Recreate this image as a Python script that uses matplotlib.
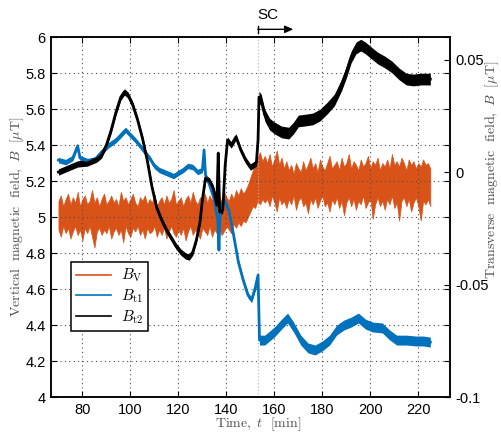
import numpy as np
import matplotlib
matplotlib.use('Agg')
from matplotlib import pyplot as plt
from matplotlib.lines import Line2D

plt.rcParams['mathtext.fontset'] = 'cm'
plt.rcParams['font.family'] = ['Liberation Sans', 'DejaVu Sans']

# --- vertical field B_V (left axis), band edges read every minute, t = 70..225
bv_t = np.arange(70, 226)
bv_upper = [5.09, 5.12, 5.06, 5.10, 5.13, 5.07, 5.11, 5.08, 5.14, 5.06,
            5.10, 5.12, 5.07, 5.09, 5.15, 5.08, 5.11, 5.06, 5.10, 5.13,
            5.07, 5.09, 5.12, 5.08, 5.10, 5.06, 5.14, 5.09, 5.11, 5.07,
            5.10, 5.13, 5.08, 5.06, 5.11, 5.09, 5.12, 5.07, 5.10, 5.08,
            5.13, 5.06, 5.09, 5.11, 5.07, 5.12, 5.08, 5.10, 5.15, 5.07,
            5.09, 5.11, 5.06, 5.10, 5.12, 5.08, 5.14, 5.09, 5.07, 5.11,
            5.10, 5.13, 5.08, 5.12, 5.09, 5.15, 5.10, 5.12, 5.08, 5.14,
            5.11, 5.09, 5.13, 5.10, 5.15, 5.12, 5.16, 5.13,
            5.15, 5.18, 5.22, 5.26, 5.30, 5.33, 5.36, 5.31, 5.34,
            5.30, 5.35, 5.28, 5.32, 5.37, 5.29, 5.33, 5.27, 5.31, 5.26,
            5.29, 5.24, 5.30, 5.27, 5.25, 5.31, 5.26, 5.29, 5.33, 5.27,
            5.30, 5.25, 5.32, 5.28, 5.26, 5.30, 5.34, 5.27, 5.29, 5.31,
            5.26, 5.33, 5.28, 5.30, 5.35, 5.27, 5.31, 5.29, 5.26, 5.32,
            5.28, 5.30, 5.34, 5.27, 5.31, 5.29, 5.33, 5.26, 5.30, 5.28,
            5.32, 5.27, 5.35, 5.29, 5.31, 5.28, 5.33, 5.30, 5.26, 5.32,
            5.29, 5.31, 5.27, 5.30, 5.28, 5.32, 5.29, 5.30, 5.27]
bv_lower = [4.93, 4.89, 4.95, 4.91, 4.94, 4.88, 4.92, 4.95, 4.90, 4.93,
            4.87, 4.94, 4.91, 4.95, 4.89, 4.83, 4.92, 4.94, 4.90, 4.93,
            4.91, 4.95, 4.88, 4.92, 4.94, 4.90, 4.93, 4.86, 4.95, 4.91,
            4.89, 4.94, 4.92, 4.95, 4.90, 4.93, 4.88, 4.94, 4.91, 4.92,
            4.95, 4.89, 4.93, 4.90, 4.94, 4.88, 4.92, 4.95, 4.91, 4.89,
            4.93, 4.90, 4.94, 4.87, 4.92, 4.95, 4.90, 4.93, 4.91, 4.88,
            4.94, 4.92, 4.90, 4.95, 4.89, 4.93, 4.91, 4.94, 4.90, 4.92,
            4.95, 4.93, 4.91, 4.96, 4.94, 4.97, 4.95, 4.98,
            4.97, 5.00, 5.03, 5.06, 5.05, 5.09, 5.07, 5.10, 5.08,
            5.10, 5.06, 5.12, 5.08, 5.03, 5.11, 5.07, 5.09, 5.05, 5.10,
            5.07, 5.12, 5.04, 5.09, 5.11, 5.06, 5.08, 5.02, 5.10, 5.07,
            5.11, 5.05, 5.09, 5.12, 5.06, 5.08, 5.03, 5.10, 5.07, 5.11,
            5.05, 5.09, 5.01, 5.08, 5.11, 5.06, 5.10, 5.04, 5.09, 5.07,
            5.12, 5.05, 5.08, 5.10, 4.99, 5.07, 5.11, 5.06, 5.09, 5.04,
            5.10, 5.07, 5.12, 5.05, 5.08, 4.98, 5.09, 5.11, 5.06, 5.10,
            5.03, 5.08, 5.11, 5.06, 4.98, 5.09, 5.07, 5.10, 5.06]

# --- transverse field B_t1 (right axis), trace centre
bt1_t = [70, 73, 76, 78, 79, 82, 85, 88, 91, 94, 96, 98, 100, 102, 104, 106,
         108, 110, 112, 114, 116, 118, 120, 122, 124, 126, 128, 130, 130.7,
         131.3, 133, 135, 136.4, 136.9, 137.4, 139, 141, 143, 145, 147, 149,
         150.5, 152, 153.2, 153.8, 156, 160, 163, 165.5, 168, 171, 174, 177,
         180, 183, 186, 189, 192, 195, 198, 201, 205, 208, 211, 215, 219, 222,
         225]
bt1 = [0.0053, 0.0044, 0.0062, 0.0116, 0.0062, 0.0049, 0.0053, 0.0089,
       0.0120, 0.0142, 0.0164, 0.0187, 0.0164, 0.0142, 0.0116, 0.0089,
       0.0062, 0.0027, 0.0009, 0.0000, -0.0009, -0.0018, -0.0004, 0.0009,
       0.0027, 0.0022, 0.0000, 0.0009, 0.0098, -0.0013, -0.0058, -0.0124,
       -0.0213, -0.0347, -0.0169, -0.0124, -0.0169, -0.0280, -0.0400,
       -0.0480, -0.0547, -0.0569, -0.0516, -0.0458, -0.0747, -0.0747,
       -0.0711, -0.0676, -0.0649, -0.0689, -0.0747, -0.0782, -0.0791,
       -0.0773, -0.0747, -0.0702, -0.0680, -0.0667, -0.0649, -0.0676,
       -0.0689, -0.0693, -0.0724, -0.0747, -0.0747, -0.0751, -0.0751,
       -0.0756]

# --- transverse field B_t2 (right axis), trace centre
bt2_t = [70, 74, 78, 82, 86, 88, 90, 92, 94, 96, 97.5, 99, 101, 103, 105,
         107, 109, 111, 113, 115, 117, 119, 121, 123, 124.5, 126, 127.5, 129,
         130, 131.3, 133, 134.5, 136, 136.6, 137.2, 138.5, 139.5, 140.5, 142,
         144, 146, 148, 150, 152.5, 153.2, 153.6, 154.5, 156, 158, 160, 163,
         166, 168, 170, 173, 176, 179, 182, 185, 188, 190, 192, 194, 196, 198,
         200, 203, 206, 209, 212, 215, 218, 221, 225]
bt2 = [0.0000, 0.0018, 0.0036, 0.0040, 0.0058, 0.0076, 0.0120, 0.0187,
       0.0267, 0.0333, 0.0356, 0.0342, 0.0298, 0.0231, 0.0151, 0.0053,
       -0.0067, -0.0160, -0.0213, -0.0258, -0.0293, -0.0329, -0.0356,
       -0.0373, -0.0378, -0.0356, -0.0302, -0.0222, -0.0124, -0.0027,
       -0.0040, -0.0071, -0.0147, 0.0084, -0.0178, -0.0169, 0.0031, 0.0142,
       0.0120, 0.0156, 0.0098, 0.0053, 0.0022, 0.0040, 0.0142, 0.0333,
       0.0320, 0.0253, 0.0213, 0.0196, 0.0178, 0.0173, 0.0196, 0.0227,
       0.0231, 0.0236, 0.0253, 0.0284, 0.0320, 0.0387, 0.0444, 0.0511,
       0.0551, 0.0564, 0.0551, 0.0533, 0.0507, 0.0489, 0.0467, 0.0436,
       0.0413, 0.0409, 0.0413, 0.0413]

# noise half-width of the traces before / after the SC
sc_time = 153.1
bt1_noise = (0.0012, 0.0022)
bt2_noise = (0.0014, 0.0026)

orange = '#D95319'
blue = '#0072BD'

fig = plt.figure(figsize=(5.02, 4.33), dpi=100)
ax1 = fig.add_axes([0.1016, 0.0831, 0.7948, 0.8314])
ax2 = ax1.twinx()

ax1.fill_between(bv_t, bv_lower, bv_upper, color=orange, lw=0.5)
ax1.set_xlim(66.9, 233.2)
ax1.set_ylim(4, 6)
ax1.set_xticks(np.arange(80, 221, 20))
ax1.set_yticks(np.arange(4, 6.01, 0.2))
ax1.yaxis.set_major_formatter(plt.FormatStrFormatter('%g'))
ax1.grid(True, linestyle=(0, (1, 3)), color='0.3', lw=0.8)
ax1.axvline(sc_time, color='0.7', linestyle=(0, (1, 2)), lw=0.8)

for tt, yy, noise, col in [(bt1_t, bt1, bt1_noise, blue), (bt2_t, bt2, bt2_noise, 'black')]:
    tt = np.array(tt)
    yy = np.array(yy)
    hw = np.where(tt < sc_time + 0.3, noise[0], noise[1])
    ax2.fill_between(tt, yy - hw, yy + hw, color=col, lw=0)
    ax2.plot(tt, yy, color=col, lw=2.0)

ax2.set_ylim(-0.1, 0.06)
ax2.set_yticks([-0.1, -0.05, 0, 0.05])
ax2.yaxis.set_major_formatter(plt.FormatStrFormatter('%g'))

for ax in (ax1, ax2):
    ax.tick_params(direction='in', length=4, width=0.8, labelsize=10.5,
                   colors='black', pad=4)
    for sp in ax.spines.values():
        sp.set_linewidth(1.1)
ax1.tick_params(top=True, right=True)

label_kw = dict(color='0.3', fontsize=10)
ax1.set_ylabel(r'$\mathrm{Vertical\ \ magnetic\ \ field,}\ B\ \ [\mu\mathrm{T}]$', **label_kw)
ax1.yaxis.set_label_coords(-0.063, 0.5)
ax1.set_xlabel(r'$\mathrm{Time,}\ t\ \ [\mathrm{min}]$', va='center', **label_kw)
ax1.xaxis.set_label_coords(0.52, -0.076)
ax2.set_ylabel(r'$\mathrm{Transverse\ \ magnetic\ \ field,}\ B\ \ [\mu\mathrm{T}]$', **label_kw)
ax2.yaxis.set_label_coords(1.085, 0.63)

# SC marker above the axes
trans = ax1.get_xaxis_transform()
ax1.annotate('', xy=(167.9, 1.0214), xytext=(sc_time, 1.0214), xycoords=trans,
             arrowprops=dict(arrowstyle='-|>,head_length=0.5,head_width=0.22',
                             color='black', lw=1, shrinkA=0, shrinkB=0),
             annotation_clip=False)
ax1.plot([sc_time, sc_time], [1.011, 1.032], color='black', lw=1,
         transform=trans, clip_on=False)
ax1.text(157.4, 1.061, 'SC', transform=trans, ha='center', va='center', fontsize=11)

handles = [Line2D([], [], color=orange, lw=1.2),
           Line2D([], [], color=blue, lw=1.2),
           Line2D([], [], color='black', lw=1.2)]
labels = [r'$B_{\rm V}$', r'$B_{\rm t1}$', r'$B_{\rm t2}$']
leg = ax2.legend(handles, labels, loc='lower left', bbox_to_anchor=(0.05, 0.183),
                 borderaxespad=0, fancybox=False, framealpha=1, edgecolor='black',
                 fontsize=11, handlelength=2.3, labelspacing=0.2, borderpad=0.35,
                 handletextpad=0.6)
leg.get_frame().set_linewidth(1.1)

fig.savefig('out.png', dpi=100)
